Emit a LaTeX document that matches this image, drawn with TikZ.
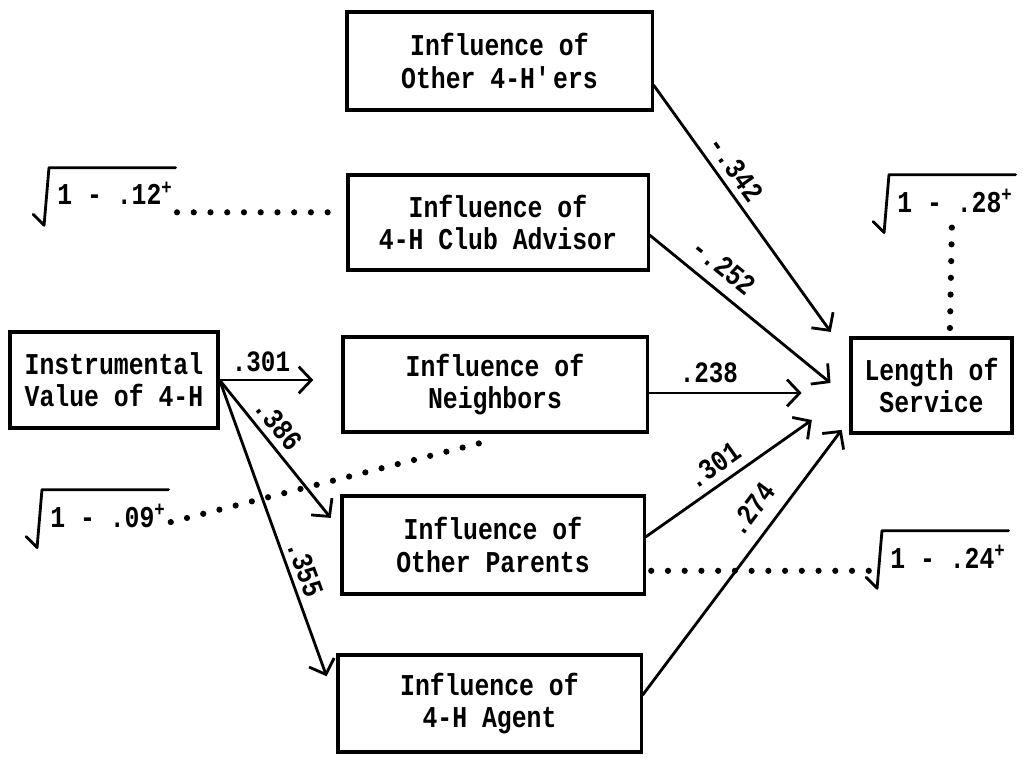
\documentclass[tikz,border=0pt]{standalone}
\usepackage{fontspec}
\setmonofont{Liberation Mono}[FakeStretch=0.82]
\usetikzlibrary{arrows.meta,calc}
\def\radix(#1){\draw[rootline] ([shift={(-17pt,-6.4pt)}]#1.south west) -- ([shift={(-9.2pt,-14.2pt)}]#1.south west) -- ([shift={(-5.7pt,10pt)}]#1.north west) -- ([shift={(2pt,10pt)}]#1.north east);}
\tikzset{
	box/.style={draw, line width=2.2pt, align=center, inner sep=0pt, font=\ttfamily\bfseries\fontsize{21.5pt}{23pt}\selectfont},
	lab/.style={font=\ttfamily\bfseries\fontsize{21pt}{21pt}\selectfont, inner sep=4.5pt, sloped, above},
	rootlab/.style={font=\ttfamily\bfseries\fontsize{21.5pt}{21pt}\selectfont, inner sep=0pt, anchor=base west},
	rootline/.style={line width=2pt, line join=round, line cap=round},
	arr/.style={line width=2pt, -{Straight Barb[length=9pt,width=19pt]}},
	dots/.style={line width=4.4pt, line cap=round, dash pattern=on 0pt off 11.9pt}
}

\begin{document}
\begin{tikzpicture}[x=0.025cm, y=0.025cm]
			%%%%% START %%%%%
			\useasboundingbox (0,0) rectangle (1029,-761);
			
			\node[box, minimum width=5.2cm, minimum height=2.4cm] (inst) at (114,-380) {Instrumental\\Value of 4-H};
			
			\node[box, minimum width=7.625cm, minimum height=2.45cm] (h4) at (499.5,-61) {Influence of\\Other 4-H\textquotesingle ers};
			\node[box, minimum width=7.5cm, minimum height=2.375cm] (adv) at (498,-222.5) {Influence of\\4-H Club Advisor};
			\node[box, minimum width=7.6cm, minimum height=2.375cm] (nbr) at (495,-384.5) {Influence of\\Neighbors};
			\node[box, minimum width=7.55cm, minimum height=2.45cm] (par) at (493,-545) {Influence of\\Other Parents};
			\node[box, minimum width=7.575cm, minimum height=2.425cm] (agt) at (489.5,-703.5) {Influence of\\4-H Agent};
			
			\node[box, minimum width=4.025cm, minimum height=2.375cm] (los) at (931.5,-385.5) {Length of\\Service};
			
			\node[rootlab] (r12) at (57,-205) {1 - .12\textsuperscript{+}};
			\node[rootlab] (r09) at (50,-527) {1 - .09\textsuperscript{+}};
			\node[rootlab] (r28) at (897,-212) {1 - .28\textsuperscript{+}};
			\node[rootlab] (r24) at (890,-568) {1 - .24\textsuperscript{+}};
			\radix(r12)
			\radix(r09)
			\radix(r28)
			\radix(r24)
			
			\draw[arr, shorten >=20pt] (inst.east) -- (inst.east -| nbr.west) node[lab, pos=0.34] {.301};
			\draw[arr, shorten >=11pt] (inst.east) -- ([yshift=10.7pt]par.west) node[lab, pos=0.37] {.386};
			\draw[arr, shorten >=20.6pt] (inst.east) -- (agt.west) node[lab, pos=0.6, inner sep=3.5pt] {.355};
			
			\draw[arr, shorten >=22.8pt] ([yshift=-17.1pt]h4.east) -- ([yshift=19.6pt]los.west) node[lab, pos=0.345] {-.342};
			\draw[arr, shorten >=17.4pt] ([yshift=-8.9pt]adv.east) -- ([yshift=-9.2pt]los.west) node[lab, pos=0.3, inner sep=8pt] {-.252};
			\draw[arr, shorten >=34pt] ([yshift=-6pt]nbr.east) -- ([yshift=-6pt]nbr.east -| los.west) node[lab, pos=0.3, inner sep=6.5pt] {.238};
			\draw[arr, shorten >=32.7pt] ([yshift=5.7pt]par.east) -- ([yshift=-5.7pt]los.west) node[lab, pos=0.39, inner sep=5.5pt] {.301};
			\draw[arr, shorten >=9.2pt] ([yshift=6pt]agt.east) -- ([yshift=-24.2pt]los.west) node[lab, pos=0.62, inner sep=9.5pt] {.274};
			
			\draw[dots, shorten <=3pt, shorten >=8pt] ([yshift=-5pt]r12.south east) -- ([yshift=-5pt]r12.south east -| adv.west);
			\draw[dots, shorten >=3pt] ([xshift=-11.5pt,yshift=-7pt]nbr.south) -- ([yshift=3pt]r09.south east);
			\draw[dots, shorten <=6pt, shorten >=8pt] ([xshift=13pt]los.north) -- ([xshift=-2pt]r28.south);
			\draw[dots, shorten <=4pt, shorten >=13pt] ([yshift=-2pt]r24.base west -| par.east) -- ([yshift=-2pt]r24.base west);
			
			%%%%% END %%%%%
\end{tikzpicture}
\end{document}
